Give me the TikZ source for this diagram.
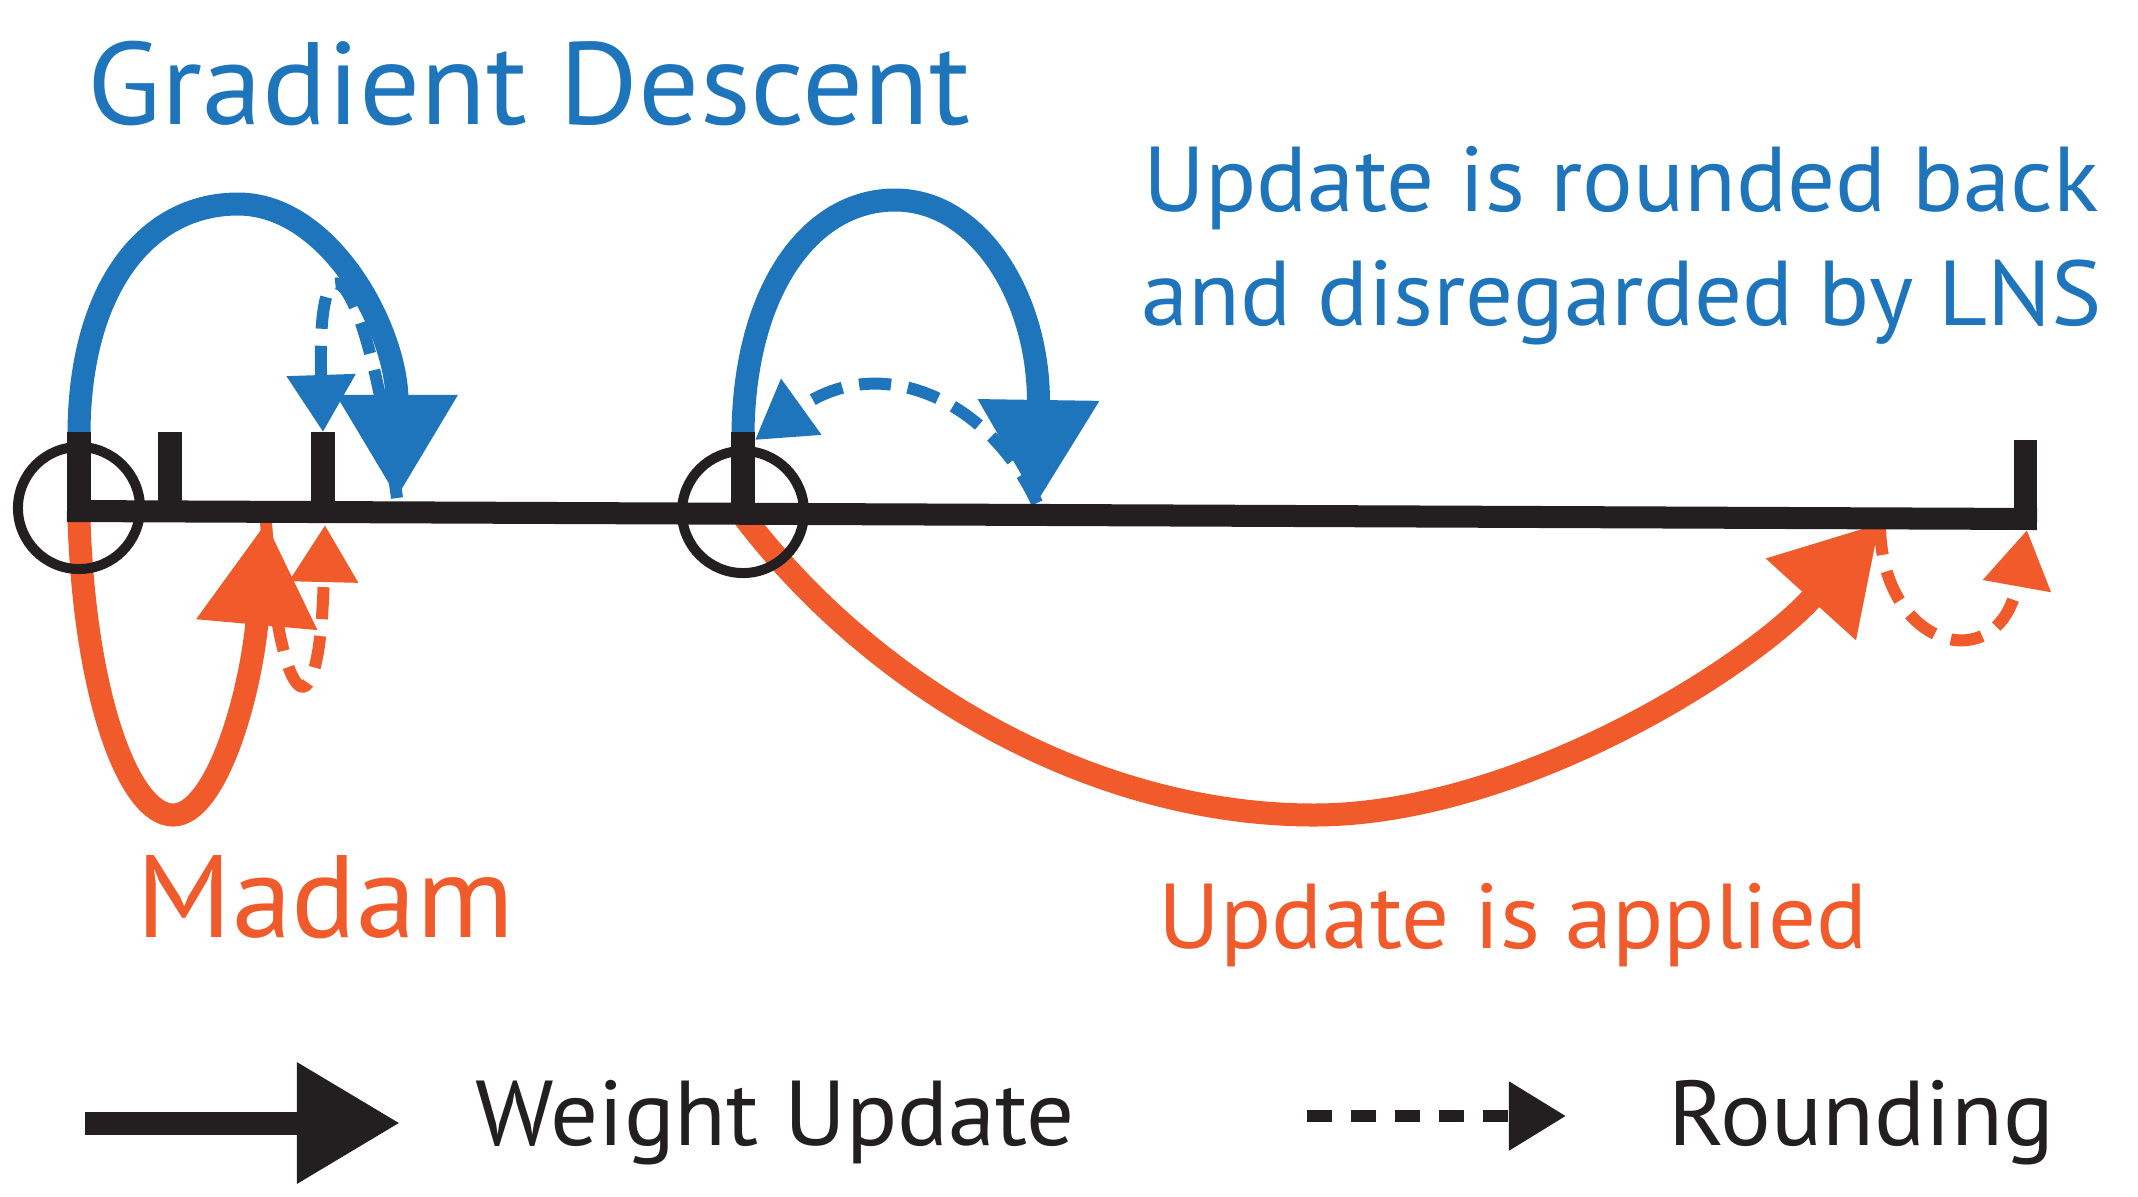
\documentclass[tikz,border=0pt]{standalone}
\usepackage{fontspec}
\setmainfont{PT Sans}[FakeStretch=1.03]
\usetikzlibrary{arrows.meta}
\definecolor{gdblue}{RGB}{31,117,188}
\definecolor{madorange}{RGB}{241,91,43}
\definecolor{inkblack}{RGB}{35,31,32}
\tikzset{
  update/.style={line width=0.23cm,-{Triangle[length=1.03cm,width=1.15cm]}},
  rounding/.style={line width=0.12cm,dash pattern=on 0.32cm off 0.17cm,-{Triangle[length=0.57cm,width=0.66cm]}},
  tickmark/.style={inkblack,line width=0.23cm},
  ring/.style={circle,draw=inkblack,line width=0.1cm,minimum size=1.22cm,inner sep=0pt},
  bigtext/.style={font=\fontsize{33.3}{36}\selectfont,inner sep=0pt,anchor=base west},
  midtext/.style={font=\fontsize{26.2}{28}\selectfont,inner sep=0pt,anchor=base west}
}

\begin{document}
\begin{tikzpicture}[x=0.01cm,y=-0.01cm]
\useasboundingbox (0,0) rectangle (2138,1196);
% number line
\coordinate (ax0) at (67,511);
\coordinate (ax1) at (2037,519);
\coordinate (w0) at (79,511);   \coordinate (w0top) at (79,432);
\coordinate (w1) at (170,511);  \coordinate (w1top) at (170,432);
\coordinate (w2) at (323,512);  \coordinate (w2top) at (323,432);
\coordinate (w3) at (743,514);  \coordinate (w3top) at (743,432);
\coordinate (w4) at (2025,519); \coordinate (w4top) at (2025,440);
\coordinate (w0bot) at (79,520);
\coordinate (w3bot) at (744,517);
% landing points
\coordinate (gd1) at (397,498);
\coordinate (md1) at (266,522);
\coordinate (md1r) at (325,525);
\coordinate (gd2) at (1037,503);
\coordinate (gd2r) at (755,440);
\coordinate (md2) at (1880,523);
\coordinate (md2r) at (2027,530);

% rounding
\draw[rounding,gdblue] (gd1) .. controls (365,260) and (316,220) .. (w2top);
\draw[rounding,madorange] (md1) .. controls (280,720) and (320,740) .. (md1r);
\draw[rounding,gdblue] (gd2) .. controls (990,400) and (880,350) .. (gd2r);
\draw[rounding,madorange] (md2) .. controls (1880,650) and (2000,680) .. (md2r);

% weight updates
\draw[update,gdblue] (w0top) .. controls (80,290) and (145,204) .. (238,204)
  .. controls (330,204) and (397,330) .. (gd1);
\draw[update,madorange] (w0bot) .. controls (85,700) and (130,815) .. (173,815)
  .. controls (215,815) and (250,700) .. (md1);
\draw[update,gdblue] (w3top) .. controls (745,290) and (810,200) .. (895,200)
  .. controls (980,200) and (1040,300) .. (gd2);
\draw[update,madorange] (w3bot) .. controls (876,690) and (1094,815) .. (1314,815)
  .. controls (1514,815) and (1746,671) .. (md2);

\draw[inkblack,line width=0.22cm] (ax0) -- (ax1);
\foreach \w in {w0,w1,w2,w3,w4}
  \draw[tickmark] (\w) -- (\w top);
\node[ring] (r0) at (79,508) {};
\node[ring] (r3) at (743,512) {};

\node[bigtext,gdblue] (gdlabel) at (87,124) {Gradient Descent};
\node[bigtext,madorange] (mdlabel) at (136,937) {Madam};
\node[midtext,gdblue] (gdnote1) at (1143,211) {Update is rounded back};
\node[midtext,gdblue] (gdnote2) at (1141,325) {and disregarded by LNS};
\node[midtext,madorange] (mdnote) at (1158,948) {Update is applied};

% legend
\coordinate (lu0) at (85,1123);
\coordinate (lu1) at (400,1123);
\coordinate (lr0) at (1307,1116);
\coordinate (lr1) at (1566,1116);
\draw[update,inkblack] (lu0) -- (lu1);
\draw[rounding,inkblack,dash pattern=on 0.25cm off 0.19cm] (lr0) -- (lr1);
\node[midtext,inkblack] (luname) at (475,1145) {Weight Update};
\node[midtext,inkblack] (lrname) at (1668,1145) {Rounding};
\end{tikzpicture}
\end{document}
